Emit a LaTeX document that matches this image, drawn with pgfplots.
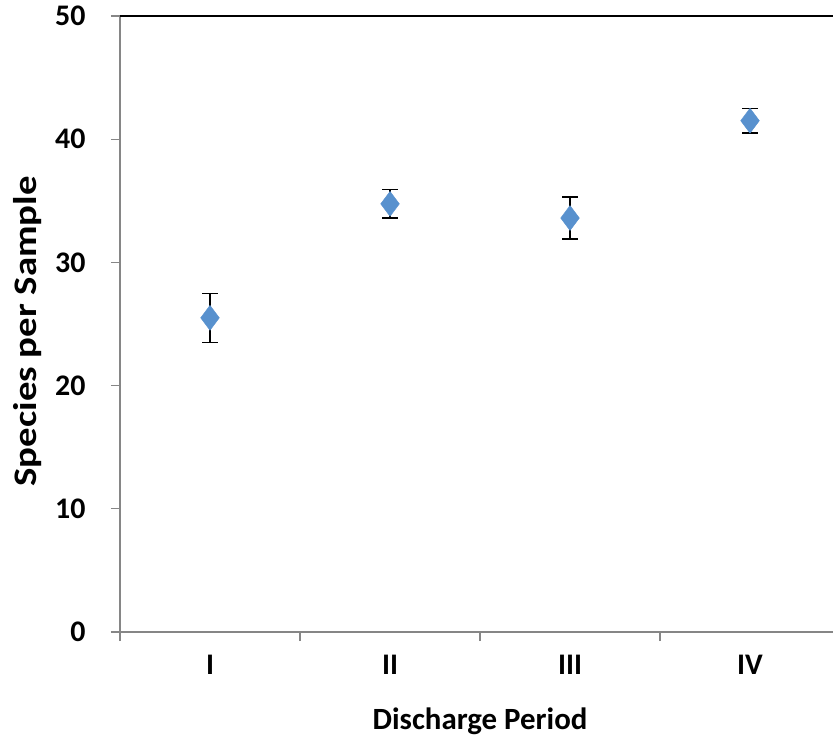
\documentclass[border=0pt]{standalone}
\usepackage{pgfplots}
\pgfplotsset{compat=1.18}
\usepackage{graphicx}
\usepackage{fontspec}
\setmainfont{Carlito}
\definecolor{mkblue}{RGB}{88,145,206}
\definecolor{axgray}{RGB}{134,134,134}
\begin{document}
\begin{tikzpicture}[x=1bp,y=1bp]
\begin{axis}[
  at={(0,0)}, anchor=origin,
  scale only axis,
  width=713bp, height=616bp,
  xmin=0.5, xmax=4.461,
  ymin=0, ymax=50,
  axis lines=left,
  axis line style={axgray, line width=1.2pt, -},
  xtick={1,2,3,4},
  xticklabels={I,II,III,IV},
  minor xtick={0.5,1.5,2.5,3.5},
  major x tick style={draw=none},
  minor x tick style={axgray, line width=1.2pt},
  ytick={0,10,20,30,40,50},
  y tick style={axgray, line width=1.2pt},
  tick align=outside,
  major tick length=9bp,
  minor tick length=9bp,
  /pgf/number format/assume math mode=true,
  ticklabel style={font=\fontsize{30}{36}\selectfont\bfseries, black},
  yticklabel style={xshift=-22bp},
  xticklabel style={anchor=base, yshift=-33bp},
  xlabel={Discharge Period},
  ylabel={\scalebox{1.18}[1]{Species per Sample}},
  xlabel style={font=\fontsize{31}{37}\selectfont\bfseries, at={(axis description cs:0.505,-0.1575)}, anchor=base},
  ylabel style={font=\fontsize{33}{39}\selectfont\bfseries, at={(axis description cs:-0.1178,0.488)}, anchor=base},
  clip=false,
]
\addplot[
  only marks,
  mark=diamond*,
  mark size=12.5pt,
  mark options={fill=mkblue, draw=mkblue},
  error bars/.cd,
    y dir=both, y explicit,
    error bar style={black, line width=1.3pt},
    error mark options={black, line width=1.3pt, mark size=8pt, rotate=90},
] coordinates {
  (1,25.5) +- (0,2.0)
  (2,34.75) +- (0,1.15)
  (3,33.6) +- (0,1.7)
  (4,41.5) +- (0,1.0)
};
\draw[black, line width=1.3pt] (rel axis cs:0,1) -- (rel axis cs:1,1);
\end{axis}
\pgfresetboundingbox
\useasboundingbox (-120,-108) rectangle (713,632);
\end{tikzpicture}
\end{document}
